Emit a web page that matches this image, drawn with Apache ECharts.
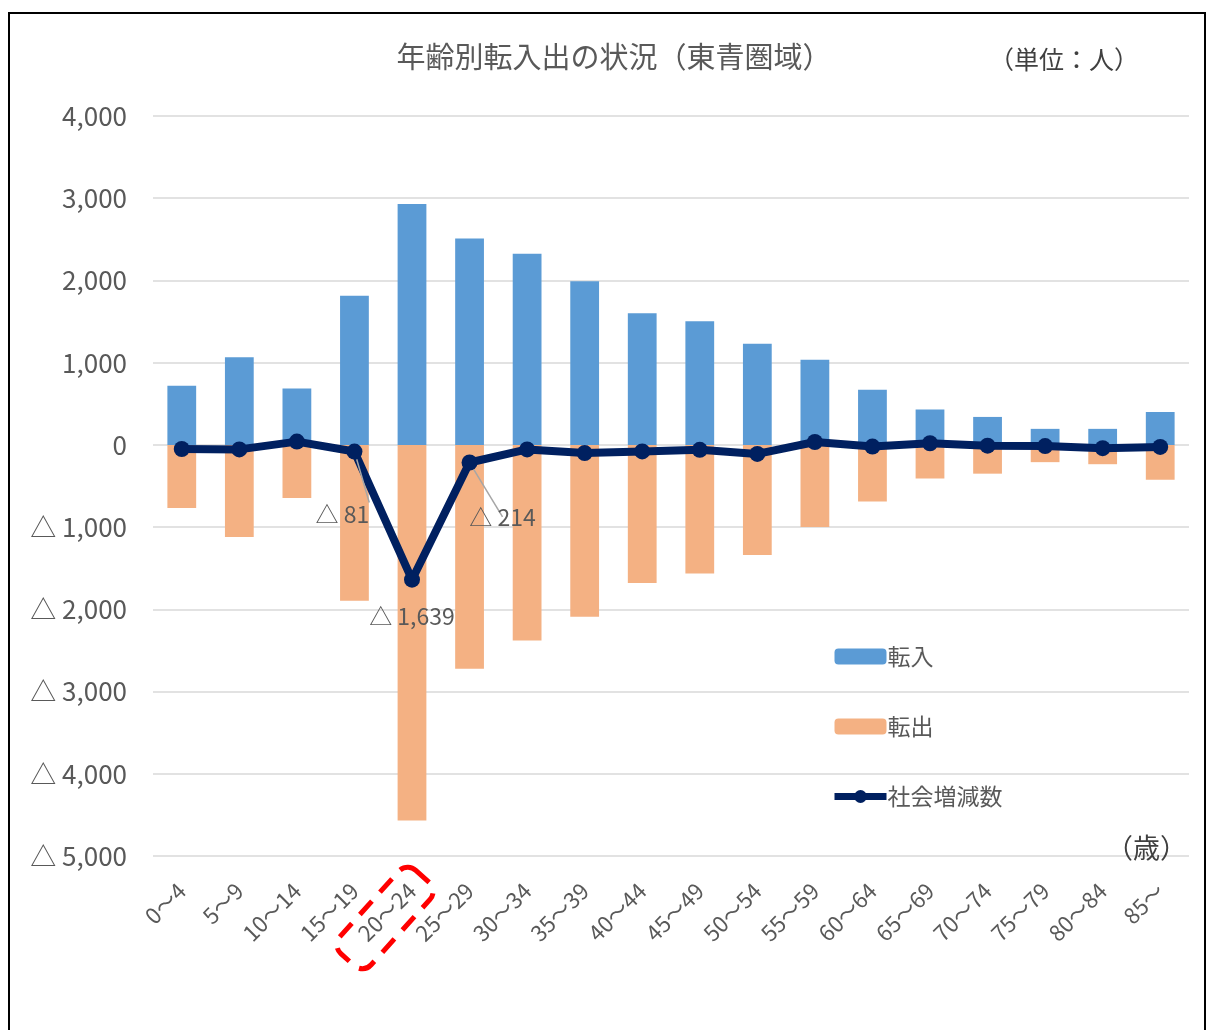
<!DOCTYPE html>
<html>
<head>
<meta charset="utf-8">
<script src="https://cdn.jsdelivr.net/npm/echarts@6/dist/echarts.min.js"></script>
<style>
  html, body { margin: 0; padding: 0; background: #fff; }
  #main { width: 1207px; height: 1030px; }
</style>
</head>
<body>
<div id="main"></div>
<script>
// 年齢階級
var ageGroups = ['0～4', '5～9', '10～14', '15～19', '20～24', '25～29', '30～34', '35～39', '40～44',
  '45～49', '50～54', '55～59', '60～64', '65～69', '70～74', '75～79', '80～84', '85～'];
// 転入
var moveIn = [718, 1065, 685, 1815, 2930, 2510, 2325, 1990, 1600, 1505, 1230, 1035, 670, 430, 340, 195, 195, 400];
// 転出 (negative)
var moveOut = [-768, -1120, -645, -1896, -4569, -2724, -2380, -2090, -1680, -1565, -1340, -1000, -690, -410, -350, -210, -235, -425];
// 社会増減数
var netChange = [-50, -55, 40, -81, -1639, -214, -55, -100, -80, -60, -110, 35, -20, 20, -10, -15, -40, -25];
var yTicks = [-5000, -4000, -3000, -2000, -1000, 0, 1000, 2000, 3000, 4000];

var FONT = '"Noto Sans CJK JP", "Noto Sans", sans-serif';

function withComma(n) {
    return String(n).replace(/\B(?=(\d{3})+(?!\d))/g, ',');
}
function fmt(v) {
    return v < 0 ? '△ ' + withComma(Math.abs(v)) : withComma(v);
}

// labels only shown for 15～29 region
var labelSetting = {
    3: { offset: [-12, 38], line: true },
    4: { offset: [0, 12], line: false },
    5: { offset: [33, 30], line: true }
};

var netData = netChange.map(function (v, i) {
    var s = labelSetting[i];
    if (!s) return v;
    return {
        value: v,
        label: {
            show: true,
            position: 'bottom',
            offset: s.offset,
            formatter: function (p) { return fmt(p.value); }
        },
        labelLine: { show: s.line, lineStyle: { color: '#a6a6a6', width: 1.5 } }
    };
});

var myChart = echarts.init(document.getElementById('main'));
var option = {
    animation: false,
    textStyle: { fontFamily: FONT },
    title: {
        text: '年齢別転入出の状況（東青圏域）',
        left: 609,
        top: 37,
        textAlign: 'center',
        textStyle: { fontSize: 29, fontWeight: 'normal', color: '#595959', fontFamily: FONT }
    },
    grid: { left: 153, right: 18, top: 116, bottom: 174 },
    legend: {
        orient: 'vertical',
        left: 831,
        top: 645,
        padding: 0,
        itemWidth: 52,
        itemHeight: 16,
        itemGap: 47,
        lineStyle: { width: 7 },
        textStyle: { fontSize: 23, color: '#595959', fontFamily: FONT, padding: [0, 0, 0, -4] },
        data: ['転入', '転出', '社会増減数']
    },
    xAxis: {
        type: 'category',
        data: ageGroups,
        axisLine: { show: false, onZero: false },
        axisTick: { show: false },
        axisLabel: { rotate: 45, margin: 31, fontSize: 22, color: '#595959', interval: 0, fontFamily: FONT }
    },
    yAxis: {
        type: 'value',
        min: yTicks[0],
        max: yTicks[yTicks.length - 1],
        interval: 1000,
        axisLine: { show: false },
        axisTick: { show: false },
        splitLine: { lineStyle: { color: '#d9d9d9', width: 1.5 } },
        axisLabel: { fontSize: 26, color: '#595959', margin: 26, fontFamily: FONT, formatter: fmt }
    },
    series: [
        {
            name: '転入',
            type: 'bar',
            data: moveIn,
            barWidth: '50%',
            barGap: '-100%',
            itemStyle: { color: '#5b9bd5' }
        },
        {
            name: '転出',
            type: 'bar',
            data: moveOut,
            barWidth: '50%',
            itemStyle: { color: '#f4b183' }
        },
        {
            name: '社会増減数',
            type: 'line',
            data: netData,
            symbol: 'circle',
            symbolSize: 16,
            z: 5,
            lineStyle: { color: '#002060', width: 8 },
            itemStyle: { color: '#002060' },
            label: { fontSize: 23, color: '#595959', fontFamily: FONT }
        }
    ],
    graphic: [
        {
            type: 'text',
            left: 989,
            top: 47,
            style: { text: '（単位：人）', font: '25px ' + FONT, fill: '#404040' }
        },
        {
            type: 'text',
            left: 1106,
            top: 834,
            z: 10,
            style: { text: '（歳）', font: '27px ' + FONT, fill: '#404040' }
        },
        {
            type: 'rect',
            x: 385,
            y: 918,
            rotation: -42 * Math.PI / 180,
            shape: { x: -21, y: -56, width: 42, height: 112, r: 12 },
            style: { fill: 'none', stroke: '#ff0000', lineWidth: 5, lineDash: [18, 12] },
            z: 10
        },
        {
            type: 'rect',
            shape: { x: 9, y: 13, width: 1196, height: 1030 },
            style: { fill: 'none', stroke: '#000', lineWidth: 2 }
        }
    ]
};
myChart.setOption(option);
</script>
</body>
</html>
